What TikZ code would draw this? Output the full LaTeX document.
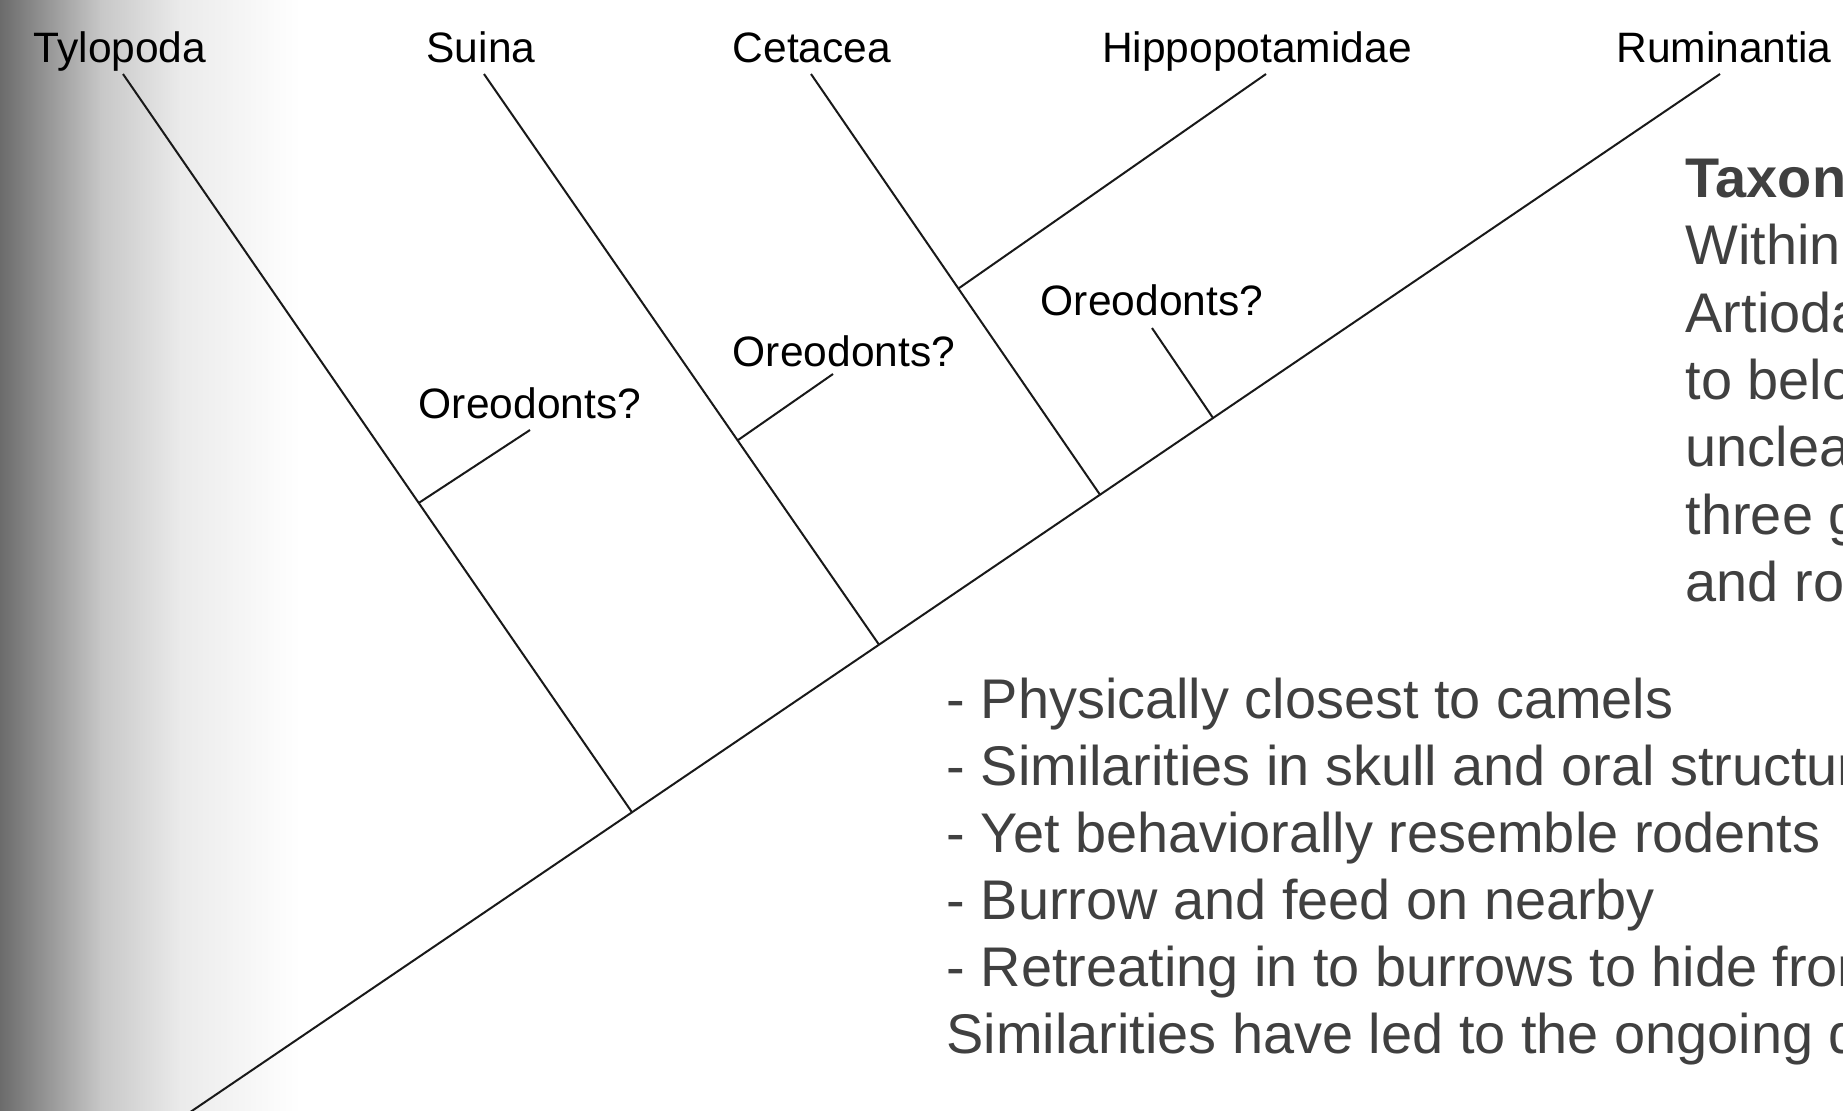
\documentclass[tikz,border=0pt]{standalone}
\usepackage{fontspec}
\setmainfont{Liberation Sans}
\usepackage{tikz}
\usetikzlibrary{calc}
\definecolor{txtgray}{RGB}{64,64,64}
\definecolor{treeline}{RGB}{25,25,25}
\tikzset{
    taxon/.style={anchor=base, inner sep=0pt, text=black, font=\fontsize{12.1}{14}\selectfont},
    notes/.style={anchor=base west, inner sep=0pt, text=txtgray, font=\fontsize{15.9}{19}\selectfont},
    branch/.style={draw=treeline, line width=0.2mm}
}

\begin{document}
\begin{tikzpicture}[x=0.1mm, y=-0.1mm]

    \useasboundingbox (0,0) rectangle (1843,1110);
    \clip (0,0) rectangle (1843,1110);

    % grey fade on the left edge
    \shade[left color=black!58, right color=black!22] (0,0) rectangle (101,1110);
    \shade[left color=black!22, right color=black!8] (100,0) rectangle (181,1110);
    \shade[left color=black!8, right color=white] (180,0) rectangle (300,1110);

    \coordinate (R) at (180,1119);
    \coordinate (Tyl) at (123,74);
    \coordinate (Sui) at (484,74);
    \coordinate (Cet) at (811,74);
    \coordinate (Hip) at (1266,74);
    \coordinate (Rum) at (1720,74);
    \coordinate (J1) at ($(R)!0.2935!(Rum)$);
    \coordinate (J2) at ($(R)!0.4539!(Rum)$);
    \coordinate (J3) at ($(R)!0.5974!(Rum)$);
    \coordinate (J4) at ($(Cet)!0.51!(J3)$);
    \coordinate (O1) at (530,430);
    \coordinate (O2) at (833,374);
    \coordinate (O3) at (1152,328);
    \coordinate (K1) at ($(Tyl)!0.581!(J1)$);
    \coordinate (K2) at ($(Sui)!0.642!(J2)$);
    \coordinate (K3) at ($(R)!0.6708!(Rum)$);

    \draw[branch] (R) -- (Rum);
    \draw[branch] (Tyl) -- (J1);
    \draw[branch] (Sui) -- (J2);
    \draw[branch] (Cet) -- (J3);
    \draw[branch] (Hip) -- (J4);
    \draw[branch] (O1) -- (K1);
    \draw[branch] (O2) -- (K2);
    \draw[branch] (O3) -- (K3);

    \node[taxon] (tTyl) at (120,62) {Tylopoda};
    \node[taxon] (tSui) at (481,62) {Suina};
    \node[taxon] (tCet) at (812,62) {Cetacea};
    \node[taxon] (tHip) at (1257,62) {Hippopotamidae};
    \node[taxon] (tRum) at (1724,62) {Ruminantia};
    \node[taxon] (tOre1) at (530,418) {Oreodonts?};
    \node[taxon] (tOre2) at (844,366) {Oreodonts?};
    \node[taxon] (tOre3) at (1152,315) {Oreodonts?};

    \node[notes] (n1) at (1685,197) {\bfseries Taxon};
    \node[notes] (n2) at (1685,264) {Within};
    \node[notes] (n3) at (1685,332) {Artioda};
    \node[notes] (n4) at (1685,399) {to belo};
    \node[notes] (n5) at (1685,466) {unclea};
    \node[notes] (n6) at (1685,534) {three g};
    \node[notes] (n7) at (1685,601) {and ro};

    \node[notes] (b1) at (946,718) {- Physically closest to camels};
    \node[notes] (b2) at (946,785) {- Similarities in skull and oral structur};
    \node[notes] (b3) at (946,852) {- Yet behaviorally resemble rodents};
    \node[notes] (b4) at (946,919) {- Burrow and feed on nearby};
    \node[notes] (b5) at (946,986) {- Retreating in to burrows to hide from};
    \node[notes] (b6) at (946,1053) {Similarities have led to the ongoing d};

\end{tikzpicture}
\end{document}
